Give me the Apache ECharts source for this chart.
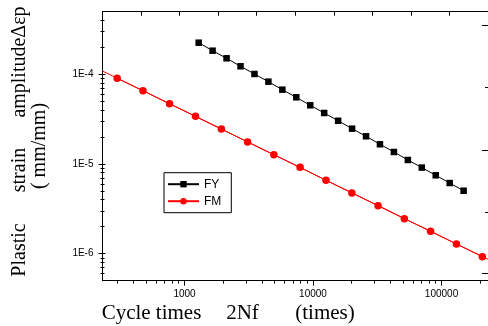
<!DOCTYPE html>
<html><head><meta charset="utf-8">
<script src="https://cdn.jsdelivr.net/npm/echarts@6/dist/echarts.min.js"></script>
<style>html,body{margin:0;padding:0;background:#fff}#c{width:488px;height:326px}</style>
</head><body><div id="c"></div>
<script>
// ---- data ----
const fyCycles = [1289,1654,2124,2728,3502,4495,5771,7411,9513,12214,15680,20135,25850,33184,42610,54700,70230,90160,115770,148620];
const fyStrain = [2.256e-4,1.837e-4,1.511e-4,1.231e-4,1.010e-4,8.29e-5,6.75e-5,5.55e-5,4.52e-5,3.71e-5,3.04e-5,2.48e-5,2.04e-5,1.661e-5,1.363e-5,1.110e-5,9.13e-6,7.49e-6,6.14e-6,5.04e-6];
const fmCycles = [299,475,765,1217,1936,3095,4959,7930,12614,20067,32085,51380,82140,130700,207900];
const fmStrain = [9.04e-5,6.58e-5,4.71e-5,3.41e-5,2.46e-5,1.762e-5,1.271e-5,9.20e-6,6.59e-6,4.76e-6,3.43e-6,2.46e-6,1.78e-6,1.284e-6,9.26e-7];
const fmFitCycles = [230,230000];
const fmFitStrain = [1.09e-4,8.65e-7];
const xTickLabels = [1000,10000,100000];
const yTickLabels = [1e-6,1e-5,1e-4];
const yTickText = ['1E-6','1E-5','1E-4'];

const X_MIN = 230, X_MAX = 230000, Y_MIN = 5e-7, Y_MAX = 5e-4;

function minorLog(lo, hi){
  const out=[];
  for(let e=-8;e<=6;e++){for(let m=2;m<=9;m++){const v=m*Math.pow(10,e);if(v>lo*1.0001&&v<hi*0.9999)out.push(+v.toPrecision(3));}}
  return out;
}
const xMinor = minorLog(X_MIN,X_MAX);
const yMinor = minorLog(Y_MIN,Y_MAX);

const black='#000';
const sans='"Liberation Sans", Arial, sans-serif';
const serif='"Liberation Serif", "Times New Roman", serif';

function logY(extra){
  return Object.assign({type:'log',logBase:10,min:Y_MIN,max:Y_MAX,position:'left',
    axisLine:{show:false},splitLine:{show:false},minorTick:{show:false},axisLabel:{show:false},
    axisTick:{show:false}}, extra);
}
function logX(extra){
  return Object.assign({type:'log',logBase:10,min:X_MIN,max:X_MAX,position:'bottom',
    axisLine:{show:false},splitLine:{show:false},minorTick:{show:false},axisLabel:{show:false},
    axisTick:{show:false}}, extra);
}

const chart = echarts.init(document.getElementById('c'),null,{renderer:'canvas'});
chart.setOption({
  animation:false,
  backgroundColor:'#fff',
  grid:{left:102.5,top:11.7,right:-1.5,bottom:45.3,containLabel:false},
  xAxis:[
    logX({axisLine:{show:true,lineStyle:{color:black,width:1}},
      axisTick:{show:true,customValues:xTickLabels,length:5,inside:false,lineStyle:{color:black}},
      axisLabel:{show:true,customValues:xTickLabels,margin:9,color:black,fontSize:10,fontFamily:sans,formatter:v=>String(Math.round(v))}}),
    logX({axisTick:{show:true,customValues:xMinor,length:3,inside:false,lineStyle:{color:black}}}),
    {type:'value',position:'top',min:0,max:10,interval:1,
      axisLine:{show:true,lineStyle:{color:black,width:1}},
      axisTick:{show:true,inside:true,length:4,lineStyle:{color:black}},
      axisLabel:{show:false},splitLine:{show:false}}
  ],
  yAxis:[
    logY({axisLine:{show:true,lineStyle:{color:black,width:1}},
      axisTick:{show:true,customValues:yTickLabels,length:4,inside:false,lineStyle:{color:black}},
      axisLabel:{show:true,customValues:yTickLabels,margin:9,color:black,fontSize:10,fontFamily:sans,
        formatter:v=>{const i=yTickLabels.findIndex(t=>Math.abs(Math.log10(t)-Math.log10(v))<0.01);return i>=0?yTickText[i]:'';}}}),
    logY({axisTick:{show:true,customValues:yMinor,length:2,inside:false,lineStyle:{color:black}}}),
    logY({axisTick:{show:true,customValues:yTickLabels,length:3,inside:true,lineStyle:{color:black}}}),
    logY({axisTick:{show:true,customValues:yMinor,length:2,inside:true,lineStyle:{color:black}}}),
    {type:'value',position:'right',min:0,max:269,
      axisLine:{show:true,lineStyle:{color:black,width:1}},
      axisTick:{show:true,inside:true,length:6,customValues:[7.4,130.7,255.7],lineStyle:{color:black}},
      axisLabel:{show:false},splitLine:{show:false}},
    {type:'value',position:'right',min:0,max:269,
      axisLine:{show:false},
      axisTick:{show:true,inside:true,length:3,customValues:[68.7,193.4],lineStyle:{color:black}},
      axisLabel:{show:false},splitLine:{show:false}}
  ],
  legend:{
    data:['FY','FM'],orient:'vertical',left:164,top:172.7,
    backgroundColor:'#fff',borderColor:black,borderWidth:1,borderRadius:0,
    padding:[4.5,10,4.5,3],itemGap:3,itemWidth:31,itemHeight:8,
    textStyle:{fontFamily:sans,fontSize:12,color:black,lineHeight:14}
  },
  series:[
    {name:'FM fit',type:'line',xAxisIndex:0,yAxisIndex:0,symbol:'none',silent:true,
      data:fmFitCycles.map((x,i)=>[x,fmFitStrain[i]]),lineStyle:{color:'#ff0000',width:1},z:1},
    {name:'FY',type:'line',xAxisIndex:0,yAxisIndex:0,symbol:'rect',symbolSize:6.5,
      data:fyCycles.map((x,i)=>[x,fyStrain[i]]),
      itemStyle:{color:black},lineStyle:{color:black,width:1},z:3},
    {name:'FM',type:'line',xAxisIndex:0,yAxisIndex:0,symbol:'circle',symbolSize:7.5,
      data:fmCycles.map((x,i)=>[x,fmStrain[i]]),
      itemStyle:{color:'#ff0000'},lineStyle:{color:'#ff0000',width:1},z:3}
  ],
  graphic:[
    {type:'text',x:20,y:250,rotation:Math.PI/2,style:{text:'Plastic',font:'20px '+serif,fill:black,align:'center',verticalAlign:'middle'}},
    {type:'text',x:20,y:170,rotation:Math.PI/2,style:{text:'strain',font:'20px '+serif,fill:black,align:'center',verticalAlign:'middle'}},
    {type:'text',x:20,y:62,rotation:Math.PI/2,style:{text:'amplitudeΔεp',font:'20px '+serif,fill:black,align:'center',verticalAlign:'middle'}},
    {type:'text',x:40,y:146,rotation:Math.PI/2,style:{text:'( mm/mm)',font:'20px '+serif,fill:black,align:'center',verticalAlign:'middle'}},
    {type:'text',x:151.5,y:313,style:{text:'Cycle times',font:'21px '+serif,fill:black,align:'center',verticalAlign:'middle'}},
    {type:'text',x:242.5,y:313,style:{text:'2Nf',font:'21px '+serif,fill:black,align:'center',verticalAlign:'middle'}},
    {type:'text',x:325,y:313,style:{text:'(times)',font:'21px '+serif,fill:black,align:'center',verticalAlign:'middle'}}
  ]
});
</script></body></html>
